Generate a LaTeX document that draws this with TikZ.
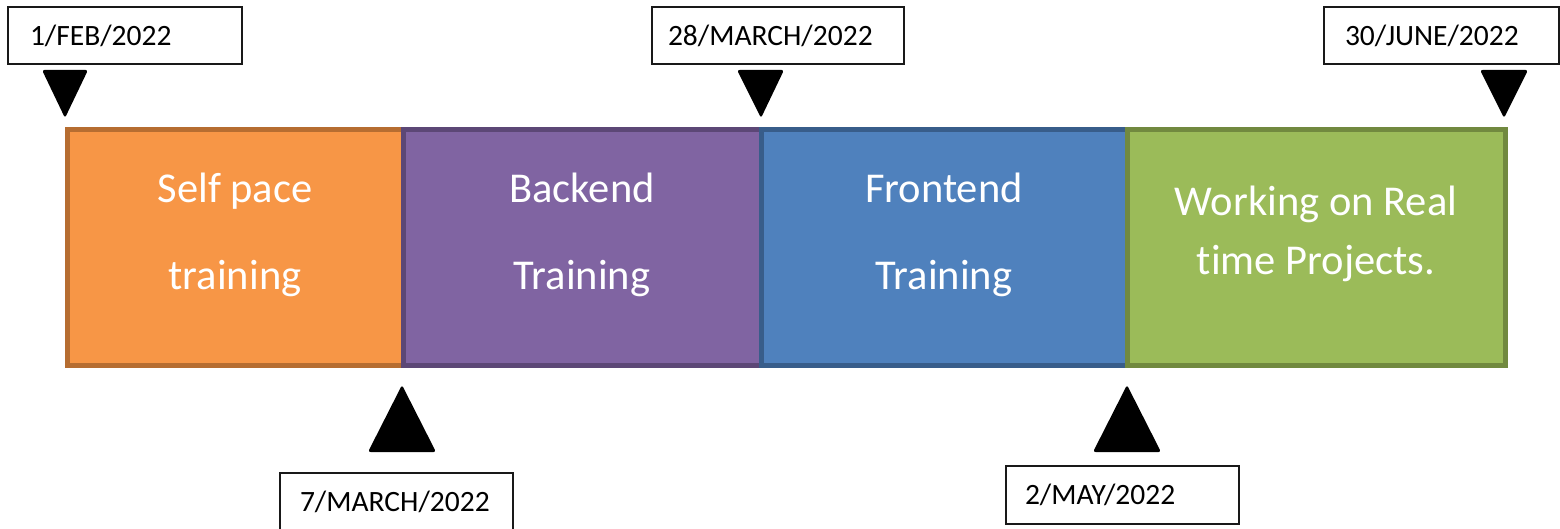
\documentclass[tikz,border=0pt]{standalone}
\usepackage{fontspec}
\setmainfont{Carlito}[Ligatures=NoCommon]
\definecolor{orfill}{HTML}{F79646}\definecolor{ordraw}{HTML}{B66D31}
\definecolor{pufill}{HTML}{8064A2}\definecolor{pudraw}{HTML}{5C4776}
\definecolor{blfill}{HTML}{4F81BD}\definecolor{bldraw}{HTML}{385D8A}
\definecolor{grfill}{HTML}{9BBB59}\definecolor{grdraw}{HTML}{71893F}
\begin{document}
\begin{tikzpicture}[x=1pt,y=-1pt,
  stage/.style={draw, line width=5pt, outer sep=0pt, inner sep=0pt, anchor=north west, minimum height=235pt},
  stagetext/.style={text=white, align=center, font=\fontsize{42.5}{87}\selectfont},
  datebox/.style={draw=black!90, line width=1.3pt, fill=white, outer sep=0pt, anchor=north west, align=left, font=\fontsize{29.5}{31}\selectfont, inner ysep=0pt},
  marker/.style={fill=black, rounded corners=2.5pt}]
\useasboundingbox (0,0) rectangle (1560,529);
\clip (0,0) rectangle (1560,529);
\fill[white] (0,0) rectangle (1560,529);
% stages
\node[stage, fill=orfill, draw=ordraw, minimum width=336pt] (s1) at (67,130) {};
\node[stage, fill=pufill, draw=pudraw, minimum width=358pt] (s2) at (403,130) {};
\node[stage, fill=blfill, draw=bldraw, minimum width=366pt] (s3) at (761,130) {};
\node[stage, fill=grfill, draw=grdraw, minimum width=378pt] (s4) at (1127,130) {};
\node[stagetext] (t1) at ([yshift=13pt]s1.center) {Self pace\\training};
\node[stagetext] (t2) at ([yshift=13pt]s2.center) {Backend\\Training};
\node[stagetext] (t3) at ([yshift=13pt]s3.center) {Frontend\\Training};
\node[stagetext, font=\fontsize{42.5}{59}\selectfont] (t4) at ([yshift=14pt]s4.center) {Working on Real\\time Projects.};
% date boxes
\node[datebox, minimum height=57pt, text width=190pt, inner xsep=22pt] (d1) at (8,7) {1/FEB/2022};
\node[datebox, minimum height=57pt, text width=220pt, inner xsep=16pt] (d3) at (652,7) {28/MARCH/2022};
\node[datebox, minimum height=57pt, text width=193pt, inner xsep=21pt] (d5) at (1324,7) {30/JUNE/2022};
\node[datebox, minimum height=57pt, text width=193pt, inner xsep=20pt] (d2) at (280,473) {7/MARCH/2022};
\node[datebox, minimum height=58pt, text width=195pt, inner xsep=19pt] (d4) at (1006,466) {2/MAY/2022};
% markers
\fill[marker] (42,70) -- (88,70) -- (65,118) -- cycle;
\fill[marker] (737,70) -- (784,70) -- (761,118) -- cycle;
\fill[marker] (1480,70) -- (1528,70) -- (1504,118) -- cycle;
\fill[marker] (368,452) -- (436,452) -- (402,385) -- cycle;
\fill[marker] (1093,452) -- (1161,452) -- (1127,385) -- cycle;
\end{tikzpicture}
\end{document}
